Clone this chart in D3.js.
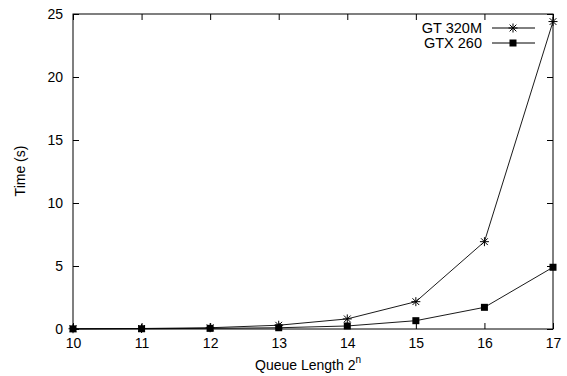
<!DOCTYPE html>
<html><head><meta charset="utf-8">
<script src="https://cdn.jsdelivr.net/npm/d3@7"></script>
<style>body{margin:0;background:#fff}svg{display:block}text{font-family:"Liberation Sans",Arial,sans-serif;fill:#000}</style>
</head><body><svg id="c" width="567" height="376"></svg>
<script>
const categories = [10, 11, 12, 13, 14, 15, 16, 17];
const gt320m = [0.02, 0.04, 0.1, 0.3, 0.8, 2.17, 6.93, 24.4];
const gtx260 = [0.01, 0.02, 0.05, 0.1, 0.24, 0.66, 1.72, 4.9];
const yTicks = [0, 5, 10, 15, 20, 25];
const seriesNames = ["GT 320M", "GTX 260"];

(function () {
const svg = d3.select("#c");
const L = 73, R = 553, T = 14, B = 329;
const x = d3.scaleLinear().domain([10, 17]).range([L, R]);
const y = d3.scaleLinear().domain([0, 25]).range([B, T]);

svg.append("rect").attr("x", L).attr("y", T).attr("width", R - L).attr("height", B - T)
  .attr("fill", "none").attr("stroke", "#000").attr("stroke-width", 1);

const gB = svg.append("g").attr("transform", `translate(0,${B})`)
  .call(d3.axisBottom(x).tickValues(categories).tickSize(-6).tickPadding(9).tickFormat(d3.format("d")));
const gT = svg.append("g").attr("transform", `translate(0,${T})`)
  .call(d3.axisTop(x).tickValues(categories).tickSize(-6).tickFormat(""));
const gL = svg.append("g").attr("transform", `translate(${L},0)`)
  .call(d3.axisLeft(y).tickValues(yTicks).tickSize(-6).tickPadding(10).tickFormat(d3.format("d")));
const gR = svg.append("g").attr("transform", `translate(${R},0)`)
  .call(d3.axisRight(y).tickValues(yTicks).tickSize(-6).tickFormat(""));
[gB, gT, gL, gR].forEach(g => {
  g.select(".domain").remove();
  g.selectAll("line").attr("stroke", "#000");
  g.selectAll("text").attr("font-size", 14).attr("font-family", "Liberation Sans, Arial, sans-serif").attr("fill", "#000");
});

svg.append("text").attr("x", 308).attr("y", 370).attr("text-anchor", "middle").attr("font-size", 14)
  .text("Queue Length 2").append("tspan").attr("dy", -7).attr("font-size", 10).text("n");
svg.append("text").attr("transform", "translate(25,171) rotate(-90)").attr("text-anchor", "middle")
  .attr("font-size", 14).text("Time (s)");

const line = d3.line().x((d, i) => x(categories[i])).y(d => y(d));
function star(g, cx, cy, s) {
  const p = `M${cx - s},${cy}H${cx + s}M${cx},${cy - s}V${cy + s}M${cx - s * 0.75},${cy - s * 0.75}L${cx + s * 0.75},${cy + s * 0.75}M${cx - s * 0.75},${cy + s * 0.75}L${cx + s * 0.75},${cy - s * 0.75}`;
  g.append("path").attr("d", p).attr("stroke", "#000").attr("stroke-width", 1).attr("fill", "none");
}
function square(g, cx, cy, s) {
  g.append("rect").attr("x", cx - s).attr("y", cy - s).attr("width", 2 * s).attr("height", 2 * s).attr("fill", "#000");
}

const s1 = svg.append("g"), s2 = svg.append("g");
s1.append("path").datum(gt320m).attr("d", line).attr("fill", "none").attr("stroke", "#000").attr("stroke-width", 0.9);
gt320m.forEach((v, i) => star(s1, x(categories[i]), y(v), 4.5));
s2.append("path").datum(gtx260).attr("d", line).attr("fill", "none").attr("stroke", "#000").attr("stroke-width", 0.9);
gtx260.forEach((v, i) => square(s2, x(categories[i]), y(v), 3.5));

const leg = svg.append("g");
seriesNames.forEach((n, i) => {
  const ly = 28 + i * 15;
  leg.append("text").attr("x", 482).attr("y", ly + 5).attr("text-anchor", "end").attr("font-size", 14.5).text(n);
  leg.append("line").attr("x1", 492).attr("x2", 535).attr("y1", ly).attr("y2", ly).attr("stroke", "#000");
  if (i === 0) star(leg, 513, ly, 4.5); else square(leg, 513, ly, 3.5);
});
})();
</script></body></html>
